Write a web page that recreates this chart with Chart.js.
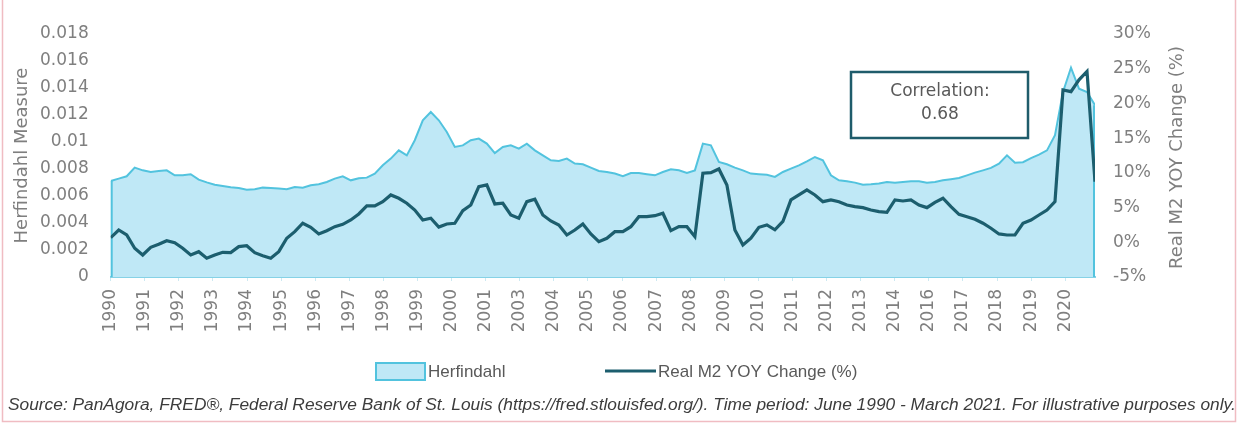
<!DOCTYPE html>
<html>
<head>
<meta charset="utf-8">
<script src="https://cdn.jsdelivr.net/npm/chart.js@4.4.1/dist/chart.umd.min.js"></script>
<style>
  html, body { margin: 0; padding: 0; background: #fff; }
  #wrap { width: 1241px; height: 425px; position: relative; }
</style>
</head>
<body>
<div id="wrap"><canvas id="chart" width="1241" height="425"></canvas></div>
<script>
// quarterly readings, Jan 1990 .. Oct 2020 (month index = i * 3)
const monthStep = 3;
const herfindahl = [
  0.00711, 0.00729, 0.00746, 0.0081, 0.0079, 0.00778, 0.00785, 0.0079, 0.00753, 0.00753,
  0.00761, 0.00721, 0.00701, 0.00684, 0.00674, 0.00664, 0.00659, 0.00647, 0.0065, 0.00662,
  0.00659, 0.00655, 0.0065, 0.00667, 0.00662, 0.00679, 0.00687, 0.00704, 0.00729, 0.00746,
  0.00716, 0.00731, 0.00736, 0.00766, 0.00827, 0.00877, 0.00938, 0.00901, 0.01013, 0.01161,
  0.01222, 0.01161, 0.01074, 0.00963, 0.00975, 0.01013, 0.01025, 0.00988, 0.00918, 0.00963,
  0.00975, 0.00951, 0.00988, 0.00938, 0.00901, 0.00864, 0.00859, 0.00877, 0.0084, 0.00835,
  0.0081, 0.00785, 0.00778, 0.00766, 0.00746, 0.0077, 0.0077, 0.00761, 0.00753, 0.00778,
  0.00798, 0.0079, 0.0077, 0.0079, 0.00988, 0.00975, 0.00852, 0.00835, 0.0081, 0.0079,
  0.00766, 0.00761, 0.00757, 0.00741, 0.00778, 0.00803, 0.00827, 0.00857, 0.00889, 0.00864,
  0.00753, 0.00716, 0.00709, 0.00699, 0.00684, 0.00687, 0.00692, 0.00704, 0.00699, 0.00704,
  0.00709, 0.00709, 0.00699, 0.00704, 0.00716, 0.00724, 0.00733, 0.00753, 0.00773, 0.0079,
  0.00808, 0.0084, 0.00901, 0.00847, 0.0085, 0.00881, 0.00906, 0.00938, 0.0105, 0.0137,
  0.0155, 0.01395, 0.0137, 0.01272
];
const realM2 = [
  0.66, 1.77, 1.05, -0.86, -1.83, -0.72, -0.29, 0.23, -0.06, -0.86,
  -1.83, -1.35, -2.3, -1.83, -1.44, -1.49, -0.63, -0.5, -1.49, -1.93,
  -2.31, -1.35, 0.58, 1.53, 2.74, 2.16, 1.2, 1.67, 2.25, 2.59,
  3.21, 4.08, 5.23, 5.23, 5.85, 6.82, 6.34, 5.62, 4.65, 3.21,
  3.46, 2.2, 2.64, 2.74, 4.55, 5.37, 8.01, 8.26, 5.52, 5.62,
  3.93, 3.46, 5.85, 6.2, 3.93, 3.07, 2.49, 1.05, 1.77, 2.64,
  1.2, 0.09, 0.58, 1.53, 1.53, 2.25, 3.69, 3.69, 3.83, 4.18,
  1.67, 2.25, 2.25, 0.81, 9.94, 10.03, 10.56, 8.26, 1.77, -0.39,
  0.58, 2.16, 2.5, 1.8, 3.0, 6.1, 6.82, 7.54, 6.82, 5.85,
  6.1, 5.85, 5.37, 5.13, 4.99, 4.65, 4.41, 4.32, 6.1, 5.95,
  6.1, 5.37, 4.99, 5.76, 6.34, 5.13, 4.03, 3.69, 3.31, 2.74,
  2.02, 1.2, 1.05, 1.05, 2.74, 3.21, 3.93, 4.65, 5.85, 21.95,
  21.7, 23.4, 24.6, 8.73
];
const yearTicks = ['1990', '1991', '1992', '1993', '1994', '1995', '1996', '1997', '1998', '1999',
  '2000', '2001', '2003', '2004', '2005', '2006', '2007', '2008', '2009', '2010',
  '2011', '2012', '2013', '2014', '2016', '2017', '2018', '2019', '2020'];
const labelStep = 12.78; // months between year labels
const seriesNames = ['Herfindahl', 'Real M2 YOY Change (%)'];
const sourceText = 'Source: PanAgora, FRED\u00AE, Federal Reserve Bank of St. Louis (https://fred.stlouisfed.org/). Time period: June 1990 - March 2021. For illustrative purposes only.';
const corrText = ['Correlation:', '0.68'];

const areaFill = '#bfe8f6';
const areaLine = '#52c3de';
const m2Color = '#1c5e6e';
const tickGray = '#7f7f7f';

const herfPts = herfindahl.map((v, i) => ({ x: i * monthStep, y: v }));
const m2Pts = realM2.map((v, i) => ({ x: i * monthStep, y: v }));
const lastMonth = (herfindahl.length - 1) * monthStep;

const extras = {
  id: 'extras',
  afterDatasetDraw(chart, args) {
    if (args.index !== 0) return;
    const pts = args.meta.data;
    const ctx = chart.ctx;
    const bottom = chart.chartArea.bottom;
    ctx.save();
    ctx.strokeStyle = areaLine;
    ctx.lineWidth = 2;
    ctx.beginPath();
    ctx.moveTo(pts[0].x + 1, pts[0].y);
    ctx.lineTo(pts[0].x + 1, bottom);
    const p = pts[pts.length - 1];
    ctx.moveTo(p.x - 1, p.y);
    ctx.lineTo(p.x - 1, bottom);
    ctx.stroke();
    ctx.restore();
  },
  afterDraw(chart) {
    const ctx = chart.ctx;
    const area = chart.chartArea;
    const midY = (area.top + area.bottom) / 2;
    ctx.save();

    // axis titles (both read bottom to top)
    ctx.fillStyle = tickGray;
    ctx.font = '18px "DejaVu Sans"';
    ctx.textAlign = 'center';
    ctx.textBaseline = 'middle';
    ctx.save();
    ctx.translate(22, midY);
    ctx.rotate(-Math.PI / 2);
    ctx.fillText('Herfindahl Measure', 0, 0);
    ctx.restore();
    ctx.save();
    ctx.translate(1177, midY + 2);
    ctx.rotate(-Math.PI / 2);
    ctx.fillText('Real M2 YOY Change (%)', 0, 0);
    ctx.restore();

    // correlation box
    ctx.fillStyle = '#fff';
    ctx.fillRect(851, 72, 177, 66);
    ctx.strokeStyle = '#1f5c6b';
    ctx.lineWidth = 2.5;
    ctx.strokeRect(851, 72, 177, 66);
    ctx.fillStyle = '#595959';
    ctx.font = '17px "DejaVu Sans"';
    ctx.fillText(corrText[0], 940, 92);
    ctx.fillText(corrText[1], 940, 115);

    // legend
    const ly = 371;
    ctx.fillStyle = areaFill;
    ctx.fillRect(376, ly - 8, 49, 17);
    ctx.strokeStyle = areaLine;
    ctx.lineWidth = 2;
    ctx.strokeRect(376, ly - 8, 49, 17);
    ctx.strokeStyle = m2Color;
    ctx.lineWidth = 3;
    ctx.beginPath();
    ctx.moveTo(605, ly);
    ctx.lineTo(656, ly);
    ctx.stroke();
    ctx.fillStyle = '#595959';
    ctx.font = '17px "Liberation Sans"';
    ctx.textAlign = 'left';
    ctx.fillText(seriesNames[0], 428, ly + 1);
    ctx.fillText(seriesNames[1], 658, ly + 1);

    // source line, fitted to its width in the picture
    ctx.font = 'italic 16px "Liberation Sans"';
    const w = ctx.measureText(sourceText).width;
    const size = 16 * 1228 / w;
    ctx.font = 'italic ' + size.toFixed(2) + 'px "Liberation Sans"';
    ctx.fillStyle = '#3c3c3c';
    ctx.fillText(sourceText, 8, 405);

    // pink frame
    ctx.strokeStyle = '#f0bcc2';
    ctx.lineWidth = 1.5;
    ctx.beginPath();
    ctx.moveTo(2.5, 0);
    ctx.lineTo(2.5, 421.5);
    ctx.lineTo(1235.5, 421.5);
    ctx.lineTo(1235.5, 0);
    ctx.stroke();
    ctx.restore();
  }
};

new Chart(document.getElementById('chart'), {
  type: 'line',
  data: {
    datasets: [
      {
        label: seriesNames[0],
        data: herfPts,
        yAxisID: 'y',
        fill: 'origin',
        backgroundColor: areaFill,
        borderColor: areaLine,
        borderWidth: 2,
        pointRadius: 0,
        tension: 0,
        order: 1
      },
      {
        label: seriesNames[1],
        data: m2Pts,
        yAxisID: 'y2',
        fill: false,
        borderColor: m2Color,
        borderWidth: 3.2,
        pointRadius: 0,
        tension: 0,
        order: 0
      }
    ]
  },
  options: {
    responsive: false,
    animation: false,
    layout: { padding: { top: 34, left: 0, right: 0, bottom: 0 } },
    plugins: { legend: { display: false }, tooltip: { enabled: false } },
    scales: {
      x: {
        type: 'linear',
        min: 0,
        max: lastMonth,
        z: 1,
        afterFit: s => { s.height = 148; },
        afterBuildTicks: s => { s.ticks = yearTicks.map((t, k) => ({ value: k * labelStep })); },
        border: { display: true, color: '#86d2e6', width: 2 },
        grid: { display: true, drawOnChartArea: false, drawTicks: true, tickLength: 4, color: '#cde9f1' },
        ticks: {
          autoSkip: false,
          maxRotation: 90,
          minRotation: 90,
          padding: 8,
          color: tickGray,
          font: { family: 'DejaVu Sans', size: 17 },
          callback: (v, i) => yearTicks[i]
        }
      },
      y: {
        position: 'left',
        min: 0,
        max: 0.018,
        afterFit: s => { s.width = 110.7; },
        border: { display: false },
        grid: { display: false, drawTicks: false },
        ticks: {
          stepSize: 0.002,
          padding: 22,
          color: tickGray,
          font: { family: 'DejaVu Sans', size: 17 },
          callback: v => String(+v.toFixed(3))
        }
      },
      y2: {
        position: 'right',
        min: -5,
        max: 30,
        afterFit: s => { s.width = 146; },
        border: { display: false },
        grid: { display: false, drawTicks: false },
        ticks: {
          stepSize: 5,
          padding: 18,
          color: tickGray,
          font: { family: 'DejaVu Sans', size: 17 },
          callback: v => v + '%'
        }
      }
    }
  },
  plugins: [extras]
});
</script>
</body>
</html>
